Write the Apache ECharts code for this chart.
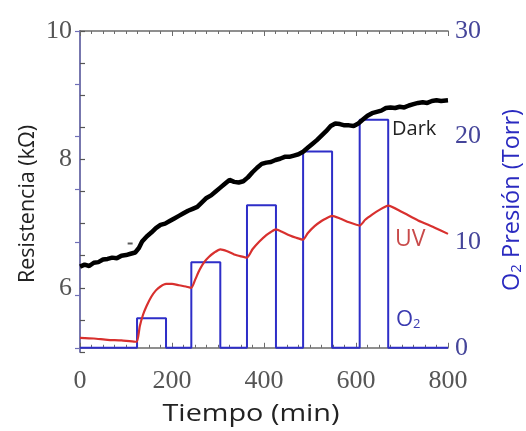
<!DOCTYPE html>
<html><head><meta charset="utf-8">
<script src="https://cdn.jsdelivr.net/npm/echarts@6/dist/echarts.min.js"></script>
<style>html,body{margin:0;padding:0;background:#fff}#c{width:526px;height:431px}</style>
</head><body><div id="c"></div>
<script>
// Dark resistance (kΩ) vs time (min)
const darkTime = [0,10,20,30,40,50,60,70,80,90,100,110,120,128,135,145,155,165,175,185,195,205,215,225,235,245,255,265,275,285,295,305,315,325,335,345,355,365,375,385,395,405,415,425,435,445,455,465,475,485,495,505,515,525,535,545,555,565,575,585,595,605,615,625,635,645,655,665,675,685,695,705,715,725,735,745,755,765,775,785,800];
const darkValue = [6.33,6.36,6.34,6.39,6.40,6.44,6.45,6.47,6.46,6.50,6.51,6.53,6.55,6.62,6.72,6.80,6.86,6.93,6.98,7.00,7.04,7.08,7.12,7.16,7.20,7.23,7.26,7.33,7.40,7.44,7.50,7.56,7.62,7.68,7.65,7.64,7.66,7.72,7.80,7.87,7.93,7.95,7.96,7.99,8.01,8.04,8.04,8.06,8.08,8.12,8.18,8.24,8.30,8.37,8.44,8.52,8.56,8.55,8.53,8.53,8.52,8.56,8.62,8.68,8.72,8.74,8.76,8.80,8.81,8.80,8.82,8.81,8.84,8.86,8.88,8.89,8.88,8.91,8.92,8.91,8.92];
const darkDotTime = [109];
const darkDotValue = [6.69];
// UV resistance (kΩ)
const uvTime = [0,30,60,90,120,124,130,137,145,155,165,175,187,200,215,230,242,250,260,270,280,292,305,320,335,350,363,375,390,405,415,426,440,455,470,485,495,510,525,535,548,565,585,608,620,635,650,670,700,735,770,800];
const uvValue = [5.22,5.21,5.19,5.18,5.16,5.16,5.40,5.58,5.72,5.86,5.96,6.02,6.06,6.06,6.04,6.02,6.00,6.12,6.28,6.40,6.48,6.55,6.60,6.57,6.52,6.49,6.47,6.60,6.72,6.82,6.87,6.91,6.87,6.82,6.78,6.75,6.85,6.96,7.04,7.08,7.12,7.08,7.02,6.97,7.06,7.14,7.21,7.28,7.18,7.05,6.94,6.84];
// O2 pressure (Torr), step pulses
const o2Time = [0,124,124,187,187,242,242,305,305,363,363,426,426,485,485,548,548,608,608,670,670,800];
const o2Value = [0,0,2.8,2.8,0,0,8.1,8.1,0,0,13.5,13.5,0,0,18.6,18.6,0,0,21.6,21.6,0,0];
// tick labels
const xTicks = [0,200,400,600,800];
const leftTicks = [6,8,10];
const rightTicks = [0,10,20,30];
const rightMinorTicks = [0,5,10,15,20,25,30];
// texts
const xTitle = 'Tiempo (min)';
const leftTitle = 'Resistencia (kΩ)';
const rightTitleRich = '{a|O}{s|2}{a| Presión (Torr)}';

const zip = (a,b)=>a.map((x,i)=>[x,b[i]]);
const serif = '"Liberation Serif","Times New Roman",serif';
const sans = '"Open Sans","Noto Sans",sans-serif';
const gray = '#6b6b6b';
const blueAx = '#6f6fb8';
const titleBlue = '#2a2ac0';

const chart = echarts.init(document.getElementById('c'), null, {renderer:'canvas'});
chart.setOption({
  animation:false,
  backgroundColor:'#fff',
  grid:{left:80,right:78,top:31,bottom:79},
  xAxis:[{
    type:'value',min:0,max:800,interval:200,position:'bottom',
    axisLine:{lineStyle:{color:gray,width:1.5}},
    axisTick:{inside:true,length:5,lineStyle:{color:gray}},
    minorTick:{show:true,splitNumber:8,length:3,lineStyle:{color:gray}},
    axisLabel:{fontFamily:serif,fontSize:26,color:'#555',margin:16,
      formatter:v=>xTicks.includes(v)?String(v):''},
    splitLine:{show:false}
  },{
    type:'value',min:0,max:800,interval:200,position:'top',
    axisLine:{lineStyle:{color:gray,width:1.5}},
    axisTick:{inside:true,length:5,lineStyle:{color:gray}},
    minorTick:{show:true,splitNumber:8,length:3,lineStyle:{color:gray}},
    axisLabel:{show:false},splitLine:{show:false}
  }],
  yAxis:[{
    type:'value',min:5,max:10,interval:0.5,position:'left',
    axisLine:{show:true,lineStyle:{color:gray,width:1.5}},
    axisTick:{show:true,inside:true,length:5,lineStyle:{color:'#555',width:1.2}},
    axisLabel:{fontFamily:serif,fontSize:26,color:'#555',margin:8,
      formatter:v=>leftTicks.includes(v)?String(v):''},
    splitLine:{show:false}
  },{
    type:'value',min:-0.4,max:30,position:'right',
    axisLine:{show:true,lineStyle:{color:blueAx,width:1.5}},
    axisTick:{inside:true,length:5,customValues:rightMinorTicks,lineStyle:{color:blueAx,width:1.2}},
    axisLabel:{fontFamily:serif,fontSize:26,color:'#45459a',margin:7,customValues:rightTicks},
    splitLine:{show:false}
  }],
  series:[
    {name:'Dark',type:'line',xAxisIndex:0,yAxisIndex:0,symbol:'none',
     data:zip(darkTime,darkValue),lineStyle:{color:'#000',width:4.5},z:3},
    {name:'DarkDot',type:'scatter',xAxisIndex:0,yAxisIndex:0,symbol:'rect',symbolSize:[5,2],
     data:zip(darkDotTime,darkDotValue),itemStyle:{color:'#333'}},
    {name:'UV',type:'line',xAxisIndex:0,yAxisIndex:0,symbol:'none',smooth:0.2,
     data:zip(uvTime,uvValue),lineStyle:{color:'#d8302e',width:2.2},z:4},
    {name:'O2',type:'line',xAxisIndex:0,yAxisIndex:1,symbol:'none',
     data:zip(o2Time,o2Value),lineStyle:{color:'#2e2ec8',width:2},z:2}
  ],
  graphic:[
    {type:'text',x:251,y:414,scaleX:1.2,style:{text:xTitle,fontFamily:sans,fontSize:24,fill:'#222',align:'center',verticalAlign:'middle'}},
    {type:'text',x:28,y:204,rotation:Math.PI/2,style:{text:leftTitle,fontFamily:sans,fontSize:21.5,fill:'#222',align:'center',verticalAlign:'middle'}},
    {type:'text',x:510,y:200,rotation:Math.PI/2,style:{text:rightTitleRich,align:'center',verticalAlign:'middle',
      rich:{a:{fontFamily:sans,fontSize:23.5,fill:titleBlue,lineHeight:28,verticalAlign:'bottom'},
            s:{fontFamily:sans,fontSize:15,fill:titleBlue,lineHeight:28,verticalAlign:'bottom'}}}},
    {type:'text',left:392,top:119,style:{text:'Dark',fontFamily:sans,fontSize:20,fill:'#222'}},
    {type:'text',left:395,top:228,style:{text:'UV',fontFamily:sans,fontSize:23,fill:'#c84a4a'}},
    {type:'text',left:396,top:309,style:{text:'{a|O}{s|2}',rich:{a:{fontFamily:sans,fontSize:22,fill:'#3a3ab0',verticalAlign:'bottom',lineHeight:28},s:{fontFamily:sans,fontSize:13,fill:'#3a3ab0',verticalAlign:'bottom',lineHeight:28}}}}
  ]
});
</script></body></html>
